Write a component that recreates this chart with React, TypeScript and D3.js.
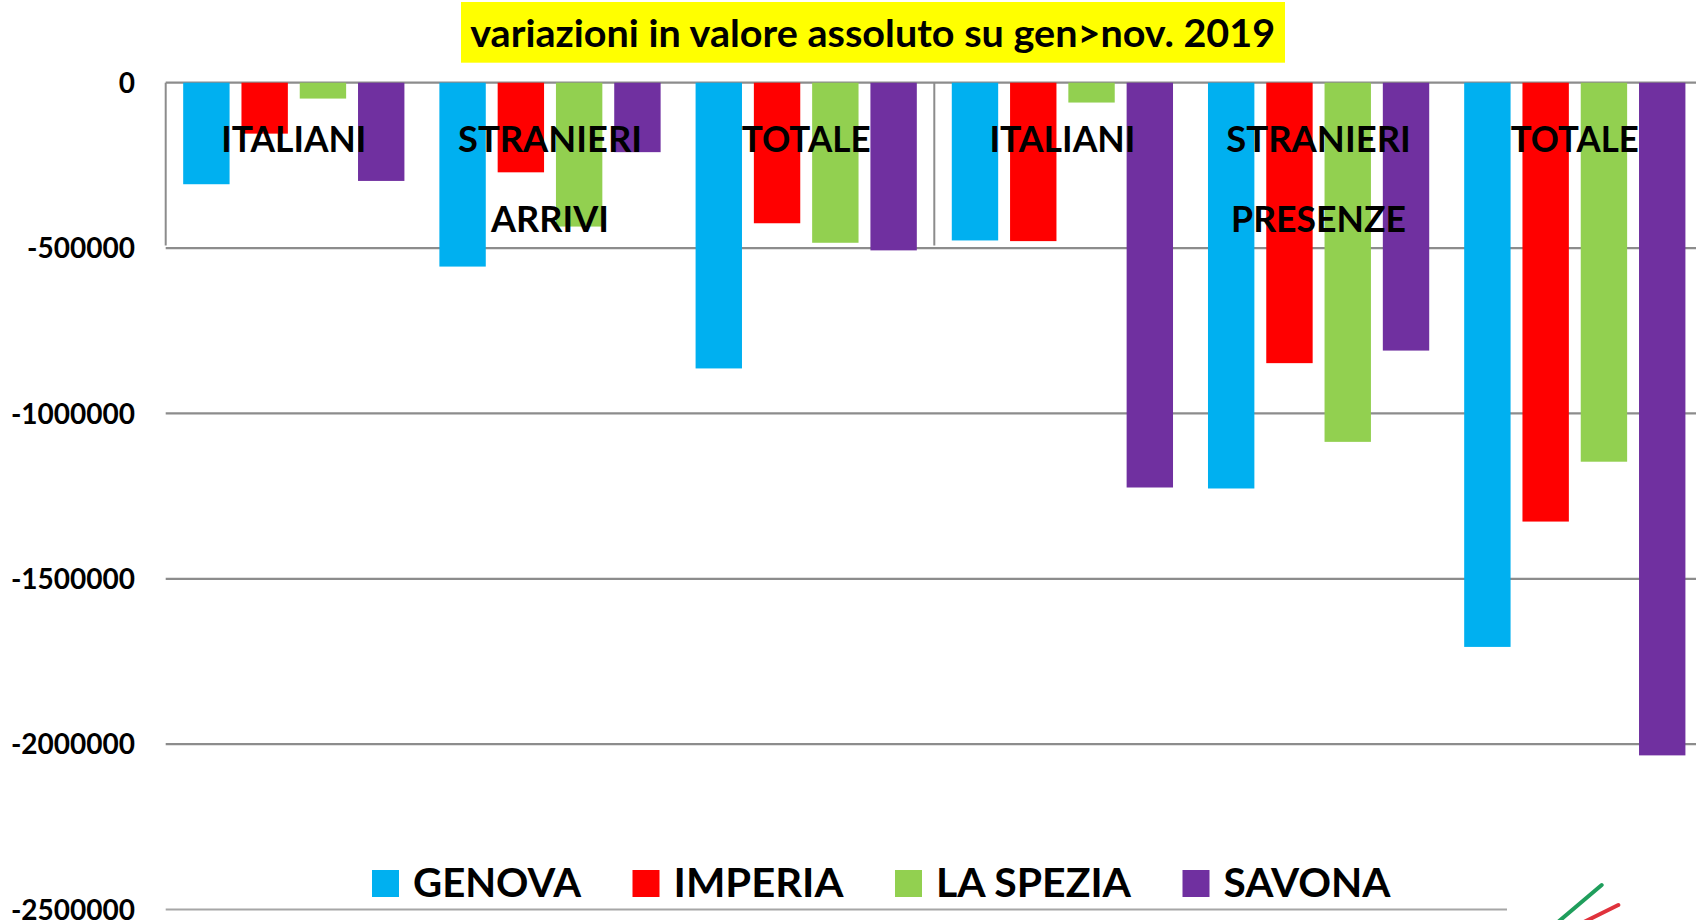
import React from "react";
import * as d3 from "d3";

// ---- data ----
const categories = ["ITALIANI", "STRANIERI", "TOTALE", "ITALIANI", "STRANIERI", "TOTALE"];
const sectionLabels = ["ARRIVI", "PRESENZE"]; // under STRANIERI of each section
const sectionIndex = [1, 4];
const seriesNames = ["GENOVA", "IMPERIA", "LA SPEZIA", "SAVONA"];
const genova = [-307000, -556000, -864000, -477000, -1227000, -1706000];
const imperia = [-154000, -271000, -425000, -479000, -848000, -1327000];
const laSpezia = [-48000, -435000, -484000, -60000, -1086000, -1146000];
const savona = [-297000, -210000, -507000, -1224000, -810000, -2034000];
const yTicks = [0, -500000, -1000000, -1500000, -2000000, -2500000];
const title = "variazioni in valore assoluto su gen>nov. 2019";

// ---- style ----
const colors = ["#00b0f0", "#ff0000", "#92d050", "#7030a0"];
const FONT = "Lato, 'Open Sans', sans-serif";
const W = 1696;
const H = 920;
const plotLeft = 165.7;
const groupStep = 256.2;
const zeroY = 82.7;
const bottomY = 909.5;
const catLabelLen = [145, 184, 129, 146, 184.5, 128];
const sectionLabelLen = [118, 175];
const legendTextLen = [168, 170, 195, 167];

export default function App() {
  const series = [genova, imperia, laSpezia, savona];
  const idx = categories.map((_, i) => String(i));

  const x0 = d3
    .scaleBand<string>()
    .domain(idx)
    .range([plotLeft, plotLeft + groupStep * categories.length])
    .paddingInner(0)
    .paddingOuter(0);

  const x1 = d3
    .scaleBand<string>()
    .domain(seriesNames)
    .range([0, x0.bandwidth()])
    .paddingInner(0.204)
    .paddingOuter(0.3);

  const y = d3.scaleLinear().domain([0, -2500000]).range([zeroY, bottomY]);

  // legend layout
  const legendStart = 372;
  const sq = 27;
  const legendItems: { x: number; name: string; color: string; len: number }[] = [];
  let cx = legendStart;
  seriesNames.forEach((n, i) => {
    legendItems.push({ x: cx, name: n, color: colors[i], len: legendTextLen[i] });
    cx += sq + 14 + legendTextLen[i] + 51.5;
  });

  return (
    <svg
      width={W}
      height={H}
      viewBox={`0 0 ${W} ${H}`}
      style={{ position: "absolute", left: 0, top: 0, display: "block", background: "#fff" }}
      fontFamily={FONT}
    >
      <rect x={0} y={0} width={W} height={H} fill="#fff" />
      {/* title */}
      <rect x={461} y={2} width={824} height={60.7} fill="#ffff00" />
      <text
        x={872.7}
        y={46.7}
        textAnchor="middle"
        fontSize={38}
        fontWeight={700}
        fill="#000"
        textLength={805}
        lengthAdjust="spacingAndGlyphs"
      >
        {title}
      </text>

      {/* gridlines */}
      {yTicks.map((t, i) => (
        <line
          key={"g" + i}
          x1={plotLeft}
          x2={t === -2500000 ? 1507 : W}
          y1={y(t)}
          y2={y(t)}
          stroke={t === -2500000 ? "#a6a6a6" : "#8c8c8c"}
          strokeWidth={2.2}
        />
      ))}
      {/* category axis separators */}
      {[0, 3].map((g) => (
        <line
          key={"s" + g}
          x1={x0(String(g))!}
          x2={x0(String(g))!}
          y1={zeroY}
          y2={245.5}
          stroke="#8c8c8c"
          strokeWidth={2}
        />
      ))}

      {/* y tick labels */}
      {yTicks.map((t, i) => (
        <text
          key={"t" + i}
          x={135}
          y={y(t)}
          dy="0.36em"
          textAnchor="end"
          fontSize={28}
          fontWeight={700}
          fill="#000"
        >
          {String(t)}
        </text>
      ))}

      {/* bars */}
      {series.map((vals, si) =>
        vals.map((v, ci) => (
          <rect
            key={`b${si}-${ci}`}
            x={x0(String(ci))! + x1(seriesNames[si])!}
            y={y(0)}
            width={x1.bandwidth()}
            height={y(v) - y(0)}
            fill={colors[si]}
          />
        ))
      )}

      {/* category labels */}
      {categories.map((c, i) => (
        <text
          key={"c" + i}
          x={x0(String(i))! + x0.bandwidth() / 2}
          y={151.7}
          textAnchor="middle"
          fontSize={37}
          fontWeight={700}
          fill="#000"
          textLength={catLabelLen[i]}
          lengthAdjust="spacingAndGlyphs"
        >
          {c}
        </text>
      ))}
      {sectionLabels.map((s, i) => (
        <text
          key={"sec" + i}
          x={x0(String(sectionIndex[i]))! + x0.bandwidth() / 2}
          y={231.5}
          textAnchor="middle"
          fontSize={37}
          fontWeight={700}
          fill="#000"
          textLength={sectionLabelLen[i]}
          lengthAdjust="spacingAndGlyphs"
        >
          {s}
        </text>
      ))}

      {/* legend */}
      {legendItems.map((it, i) => (
        <g key={"l" + i}>
          <rect x={it.x} y={870} width={sq} height={sq} fill={it.color} />
          <text
            x={it.x + sq + 14}
            y={896.7}
            fontSize={40}
            fontWeight={700}
            fill="#000"
            textLength={it.len}
            lengthAdjust="spacingAndGlyphs"
          >
            {it.name}
          </text>
        </g>
      ))}

      {/* partial logo bottom right */}
      <line x1={1601.7} y1={885} x2={1558} y2={922} stroke="#1f9e5c" strokeWidth={4} strokeLinecap="round" />
      <line x1={1618.3} y1={905} x2={1584} y2={922} stroke="#e0323c" strokeWidth={4} strokeLinecap="round" />
    </svg>
  );
}
